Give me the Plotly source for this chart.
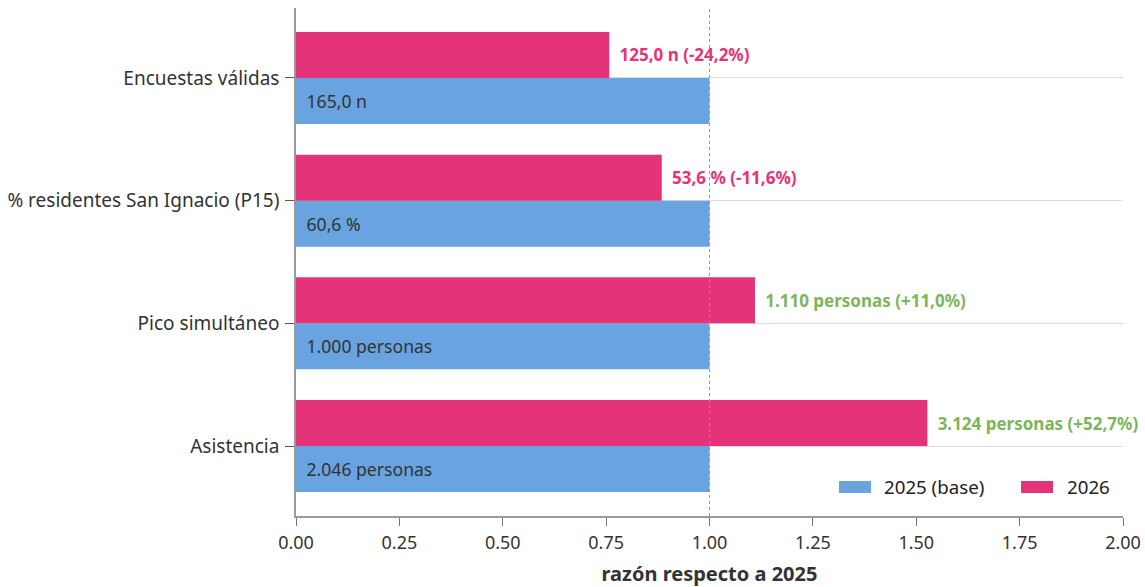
import plotly.graph_objects as go

categories = ["Asistencia", "Pico simultáneo", "% residentes San Ignacio (P15)", "Encuestas válidas"]
values_2025 = [2046, 1000, 60.6, 165.0]
values_2026 = [3124, 1110, 53.6, 125.0]
labels_2025 = ["2.046 personas", "1.000 personas", "60,6 %", "165,0 n"]
labels_2026 = ["3.124 personas (+52,7%)", "1.110 personas (+11,0%)", "53,6 % (-11,6%)", "125,0 n (-24,2%)"]
label_colors_2026 = ["#7db65a", "#7db65a", "#e5337a", "#e5337a"]
x_ticks = [0.0, 0.25, 0.5, 0.75, 1.0, 1.25, 1.5, 1.75, 2.0]
legend_names = ["2025 (base)", "2026"]

BLUE = "#69a3e0"
PINK = "#e5337a"
ratio_2025 = [1.0 for _ in values_2025]
ratio_2026 = [b / a for a, b in zip(values_2025, values_2026)]

FONT = "Noto Sans, sans-serif"

fig = go.Figure()
fig.add_trace(go.Bar(
    y=categories, x=ratio_2025, orientation="h", name=legend_names[0],
    marker=dict(color=BLUE, line=dict(width=0)),
    text=["\u00a0\u2009" + t for t in labels_2025], textposition="inside", insidetextanchor="start",
    textfont=dict(color="#333333", size=17.6, family=FONT),
    cliponaxis=False, showlegend=False,
))
fig.add_trace(go.Bar(
    y=categories, x=ratio_2026, orientation="h", name=legend_names[1],
    marker=dict(color=PINK, line=dict(width=0)),
    text=["\u00a0\u2009<b>" + t + "</b>" for t in labels_2026], textposition="outside",
    textfont=dict(color=label_colors_2026, size=17, family=FONT),
    cliponaxis=False, showlegend=False,
))

fig.add_shape(type="line", x0=1, x1=1, y0=0, y1=1, xref="x", yref="paper",
              line=dict(color="#999999", width=1, dash="3px,3px"))

# manual legend (rectangular swatches)
for name, color, x0, x1, tx in [(legend_names[0], BLUE, 0.6566, 0.6953, 0.7086),
                                (legend_names[1], PINK, 0.8767, 0.9154, 0.9299)]:
    fig.add_shape(type="rect", xref="paper", yref="paper", x0=x0, x1=x1, y0=0.0453, y1=0.0689,
                  fillcolor=color, line=dict(width=0))
    fig.add_annotation(xref="paper", yref="paper", x=tx, y=0.0571, text=name, showarrow=False,
                       xanchor="left", yanchor="middle", font=dict(size=18.7, color="#222222", family=FONT))

fig.update_layout(
    width=1145, height=587,
    margin=dict(l=296, r=22, t=8, b=71),
    barmode="group", bargap=0.25, bargroupgap=0,
    plot_bgcolor="white", paper_bgcolor="white",
    font=dict(family=FONT, size=18, color="#333333"),
    uniformtext=dict(mode=False),
    showlegend=False,
    xaxis=dict(range=[0, 2.0], tickvals=x_ticks, ticktext=[f"{v:.2f}" for v in x_ticks],
               showgrid=False, zeroline=False, showline=True, linecolor="#999999", linewidth=1.5,
               ticks="outside", ticklen=8, tickcolor="#777777", tickfont=dict(size=18),
               ticklabelstandoff=2, automargin=False,
               title=dict(text="<b>razón respecto a 2025</b>", font=dict(size=20), standoff=19)),
    yaxis=dict(categoryorder="array", categoryarray=categories, range=[-0.57, 3.57],
               showgrid=True, gridcolor="#dddddd", gridwidth=1, zeroline=False,
               showline=True, linecolor="#999999", linewidth=1.5,
               ticks="outside", ticklen=9, tickcolor="#555555", tickfont=dict(size=19),
               ticklabelstandoff=2, automargin=False),
)

fig.write_html("out.html", config={"displayModeBar": False},
               post_script="document.documentElement.style.overflow='hidden';"
                           "document.body.style.overflow='hidden';"
                           "document.body.style.margin='0';document.body.style.padding='0';")
